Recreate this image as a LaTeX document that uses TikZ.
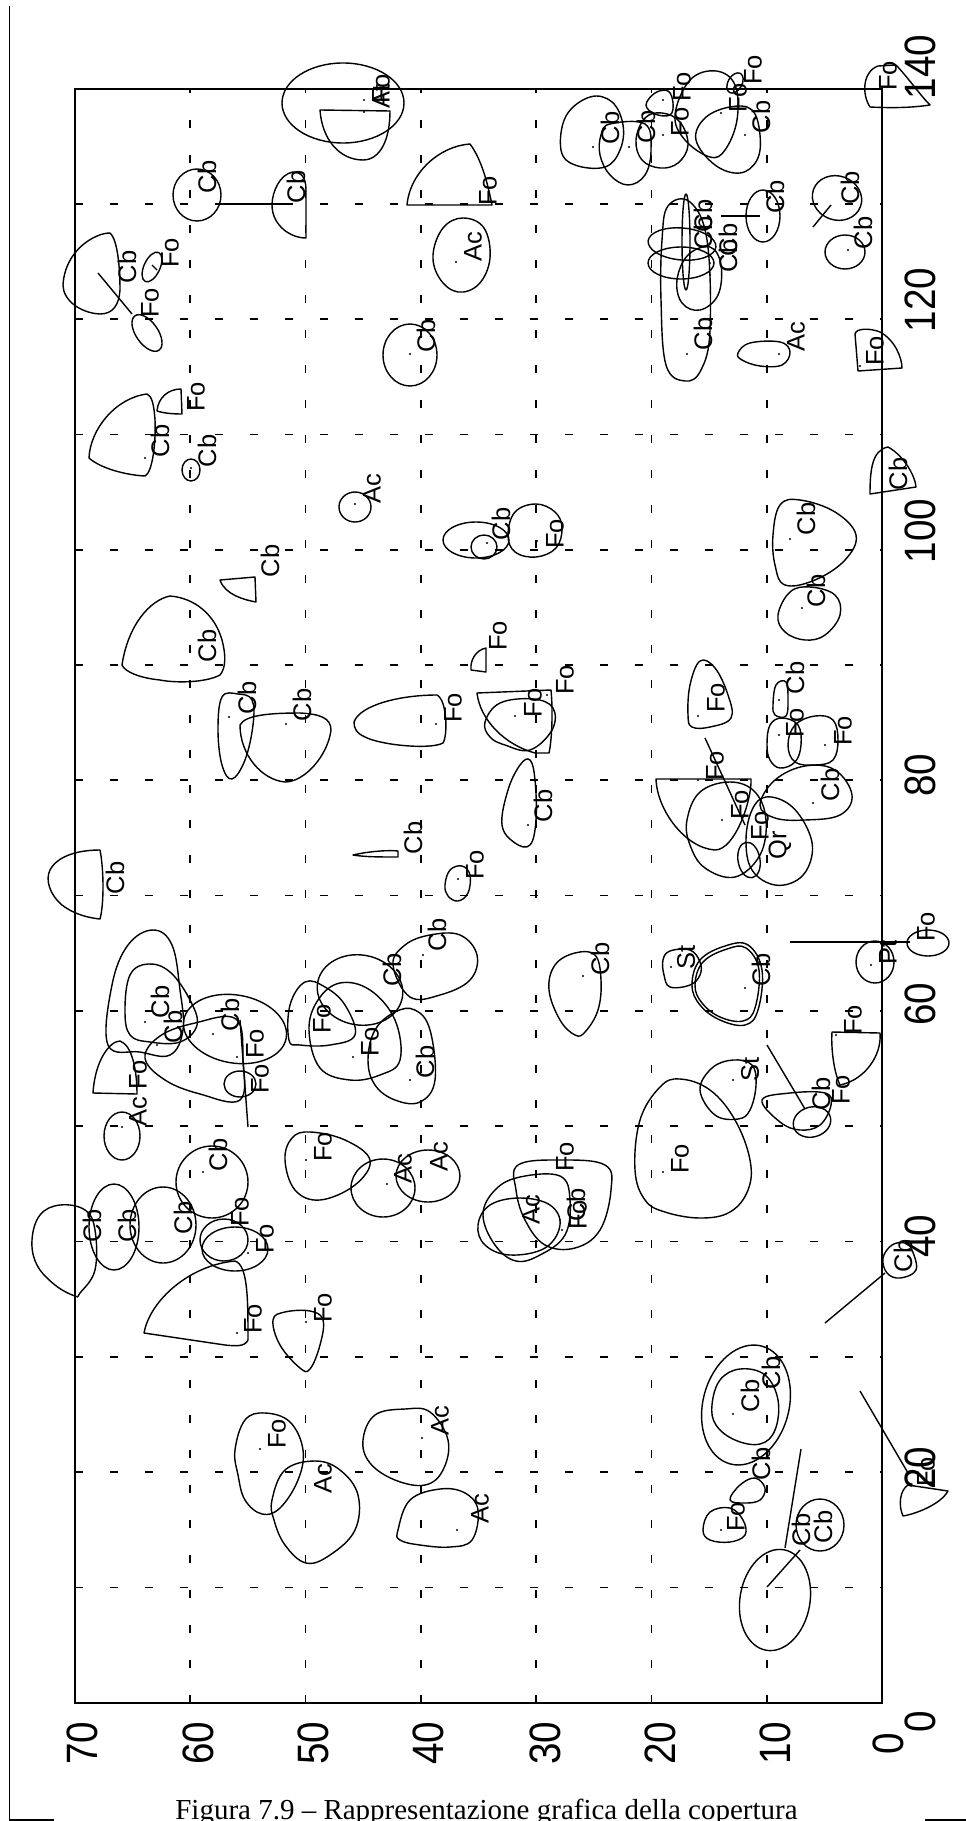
\documentclass[tikz,border=0pt]{standalone}
\usepackage{fontspec}
\usepackage{graphicx}
\setmainfont{Liberation Serif}
\newfontfamily\lfont{Liberation Sans}
\tikzset{
 shp/.style={line width=0.8pt, line join=round},
 lab/.style={font=\lfont\fontsize{14.5}{15}\selectfont, rotate=90, inner sep=0pt},
 axl/.style={font=\lfont\fontsize{25}{26}\selectfont, rotate=90, inner sep=0pt},
 gridl/.style={line width=1pt, dash pattern=on 0.16cm off 0.54cm},
}
\newcommand\Blob[1]{\draw[shp] plot[smooth cycle, tension=0.65] coordinates {#1};}
\newcounter{lbcount}
\newcommand\Lb[3]{\stepcounter{lbcount}\node[lab] (lb\arabic{lbcount}) at (#1,#2) {#3};}
\newcommand\Dt[2]{\fill (#1,#2) circle [radius=1.1];}
\newcommand\Ell[5]{\draw[shp, rotate around={#5:(#1,#2)}] (#1,#2) ellipse [x radius=#3, y radius=#4];}
\newcommand\Ax[3]{\node[axl] (#1) at (#2) {\scalebox{0.88}[1]{#3}};}
\begin{document}
\begin{tikzpicture}[x=0.02cm, y=-0.02cm]
\useasboundingbox (0,0) rectangle (966,1821);
\clip (0,0) rectangle (966,1821);
% page rules
\draw[line width=0.6pt] (9.3,6) -- (9.3,1820) -- (54,1820);
\draw[line width=0.6pt] (925,1820) -- (966,1820);
% grid
\foreach \xx in {766.7,651.4,536.1,420.8,305.5,190.2} \draw[gridl] (\xx,1702.7) -- (\xx,89);
\foreach \yy in {1587.4,1472.1,1356.8,1241.5,1126.2,1010.9,895.6,780.3,665,549.7,434.4,319.1,203.8} \draw[gridl] (75,\yy) -- (882,\yy);
% frame
\draw[line width=1.3pt] (75,89) rectangle (882,1702.7);
% axis labels
\Ax{ax0}{920,1722}{0}
\Ax{ax20}{920,1468}{20}
\Ax{ax40}{920,1236}{40}
\Ax{ax60}{920,1004}{60}
\Ax{ax80}{920,775}{80}
\Ax{ax100}{920,531}{100}
\Ax{ax120}{920,300}{120}
\Ax{ax140}{920,67}{140}
\Ax{ay70}{82,1743}{70}
\Ax{ay60}{198,1743}{60}
\Ax{ay50}{313,1743}{50}
\Ax{ay40}{428,1743}{40}
\Ax{ay30}{545,1743}{30}
\Ax{ay20}{660,1743}{20}
\Ax{ay10}{775,1743}{10}
\Ax{ay0}{888,1744}{0}
% caption
\node[anchor=base west, inner sep=0pt, font=\fontsize{16.5}{18}\selectfont] (cap) at (175,1819) {Figura 7.9 -- Rappresentazione grafica della copertura};

% ---------- top-left ----------
\Ell{343}{103}{61}{40}{0}
\draw[shp] (320,110) -- (390,111) .. controls (390,140) and (380,160) .. (363,160) .. controls (340,160) and (322,140) .. (320,110) -- cycle;
\Dt{364}{100} \Dt{364}{112}
\Lb{381}{96}{At} \Lb{381}{89}{Fo}
\Ell{197}{195}{24}{26}{0}
\Lb{207}{177}{Cb}
\draw[shp] (221,204) -- (293,204);
\draw[shp] (306,238) -- (306,190) .. controls (306,176) and (300,172) .. (293,172) .. controls (280,174) and (272,192) .. (272,205) .. controls (272,225) and (290,238) .. (306,238) -- cycle;
\Lb{296}{187}{Cb}
\draw[shp] (407,205) .. controls (410,172) and (440,146) .. (470,144) .. controls (482,160) and (488,185) .. (492,205) -- cycle;
\Lb{488}{191}{Fo}
\Blob{(433,255) (443,228) (463,218) (484,228) (490,258) (479,284) (458,292) (440,279)}
\Dt{456}{262}
\Lb{473}{247}{Ac}
\draw[shp] (63,285) .. controls (65,250) and (95,233) .. (110,233) .. controls (118,240) and (120,270) .. (120,290) .. controls (119,305) and (113,314) .. (100,314) .. controls (80,313) and (63,300) .. (63,285) -- cycle;
\Lb{127}{267}{Cb}
\draw[shp] (98,273) -- (132,314);
\Ell{152}{267}{8}{16}{-25}
\draw[shp] (152,265) -- (157,270);
\Lb{170}{253}{Fo}
\Ell{147}{333}{11}{21}{35}
\Lb{150}{303}{Fo}
% ---------- top-right cluster ----------
\Blob{(561,150) (566,116) (590,97) (612,102) (623,125) (620,150) (605,167) (575,165)}
\Blob{(601,135) (610,124) (645,124) (651,150) (645,175) (628,185) (610,175) (600,155)}
\Blob{(636,140) (645,118) (662,113) (680,122) (688,145) (678,163) (660,168) (642,160)}
\Blob{(646,105) (655,93) (668,91) (673,103) (670,115) (655,114)}
\Blob{(696,140) (705,118) (730,107) (752,110) (760,135) (757,160) (740,173) (715,165)}
\Blob{(675,115) (690,80) (716,71) (735,85) (737,120) (725,150) (710,157) (685,140)}
\Ell{735}{83}{7}{11}{-30}
\Dt{593}{147} \Dt{629}{147} \Dt{663}{135} \Dt{663}{100} \Dt{745}{135} \Dt{721}{113}
\Lb{610}{128}{Cb} \Lb{646}{127}{Cb} \Lb{680}{122}{Fo} \Lb{682}{87}{Fo} \Lb{738}{98}{Fo} \Lb{753}{70}{Fo} \Lb{761}{117}{Cb}
\draw[shp] (870,107) .. controls (862,95) and (862,72) .. (878,66) -- (896,65) .. controls (910,80) and (920,95) .. (930,105) .. controls (910,108) and (890,108) .. (870,107) -- cycle;
\Lb{888}{76}{Fo}
% ---------- cluster near x=120 ----------
\Ell{682}{244}{34}{16}{-5}
\Ell{681}{263}{33}{16}{0}
\Ell{686}{242}{4}{48}{0}
\Blob{(661,300) (662,240) (668,206) (690,202) (707,240) (710,330) (701,370) (685,381) (666,365)}
\Blob{(677,280) (688,255) (710,247) (721,265) (718,295) (700,310) (682,303)}
\Dt{687}{354} \Dt{710}{263} \Dt{710}{275}
\Lb{703}{334}{Cb} \Lb{703}{216}{Cb} \Lb{703}{233}{Cb} \Lb{728}{240}{Cb} \Lb{728}{256}{Cb}
\Ell{763}{216}{17}{26}{0}
\draw[shp] (721,216) -- (760,216);
\Lb{775}{197}{Cb}
\Ell{837}{198}{25}{22}{-20}
\draw[shp] (813,227) -- (831,205);
\Lb{850}{188}{Cb}
\Ell{845}{252}{20}{17}{0}
\Dt{848}{250}
\Lb{863}{233}{Cb}
% ---------- x 100-110 ----------
\Ell{410}{355}{27}{31}{0}
\Dt{410}{354}
\Lb{426}{336}{Cb}
\draw[shp] (157,411) .. controls (158,398) and (168,389) .. (181,389) -- (182,414) .. controls (172,414) and (163,413) .. (157,411) -- cycle;
\Lb{196}{397}{Fo}
\draw[shp] (147,394) .. controls (115,398) and (90,430) .. (89,458) .. controls (100,468) and (125,475) .. (145,476) .. controls (153,472) and (156,440) .. (155,420) .. controls (154,405) and (152,396) .. (147,394) -- cycle;
\Dt{145}{458}
\Lb{160}{441}{Cb}
\Ell{191}{470}{9}{11}{0}
\Dt{191}{468}
\Lb{207}{451}{Cb}
\Ell{355}{507}{16}{15}{0}
\Dt{355}{504}
\Lb{372}{489}{Ac}
\Ell{476}{540}{33}{18}{0}
\Ell{484}{547}{13}{12}{0}
\Dt{487}{543}
\Lb{501}{524}{Cb}
\Blob{(508,535) (515,512) (536,504) (555,512) (562,528) (556,548) (536,557) (515,552)}
\Dt{537}{541}
\Lb{555}{534}{Fo}
\draw[shp] (220,580) -- (255,577) -- (256,602) .. controls (245,600) and (225,595) .. (220,580) -- cycle;
\Lb{270}{561}{Cb}
\draw[shp] (122,665) .. controls (128,625) and (150,600) .. (170,596) .. controls (195,598) and (215,615) .. (222,640) .. controls (226,655) and (226,668) .. (220,675) .. controls (205,683) and (175,683) .. (160,680) .. controls (140,678) and (125,672) .. (122,665) -- cycle;
\Lb{207}{646}{Cb}
\Blob{(738,353) (750,343) (780,342) (790,352) (782,365) (760,366) (742,360)}
\Dt{779}{354}
\Lb{796}{337}{Ac}
\draw[shp] (858,371) -- (855,334) .. controls (856,328) and (870,328) .. (880,332) .. controls (895,340) and (902,358) .. (902,368) -- cycle;
\Dt{860}{366}
\Lb{875}{351}{Fo}
\draw[shp] (870,494) .. controls (870,470) and (872,450) .. (888,447) .. controls (903,455) and (915,475) .. (916,487) -- cycle;
\Lb{898}{474}{Cb}
\Blob{(773,535) (780,505) (800,500) (835,512) (856,535) (845,560) (815,580) (785,585) (775,565)}
\Dt{790}{539}
\Lb{806}{519}{Cb}
\Blob{(778,615) (790,592) (810,587) (835,595) (840,615) (825,635) (805,640) (785,632)}
\Dt{802}{608}
\Lb{816}{591}{Cb}
% ---------- x 80-90 ----------
\Blob{(218,730) (222,697) (238,694) (252,700) (253,725) (245,760) (232,779) (222,765)}
\Dt{229}{717}
\Lb{247}{698}{Cb}
\draw[shp] (240,725) .. controls (245,715) and (270,713) .. (300,713) .. controls (320,714) and (331,718) .. (331,730) .. controls (328,755) and (305,782) .. (285,782) .. controls (262,780) and (240,755) .. (240,725) -- cycle;
\Dt{286}{724}
\Lb{302}{705}{Cb}
\draw[shp] (354,722) .. controls (360,705) and (400,695) .. (437,695) .. controls (447,700) and (448,735) .. (443,743) .. controls (430,750) and (380,745) .. (365,737) .. controls (356,733) and (354,728) .. (354,722) -- cycle;
\Dt{436}{724}
\Lb{453}{708}{Fo}
\draw[shp] (353,855) .. controls (370,851) and (390,850) .. (398,851) -- (398,857) .. controls (380,857) and (365,857) .. (353,855) -- cycle;
\Lb{413}{838}{Cb}
\draw[shp] (100,850) .. controls (104,870) and (104,905) .. (100,919) .. controls (90,918) and (75,915) .. (62,905) .. controls (50,895) and (45,880) .. (50,870) .. controls (58,855) and (80,850) .. (100,850) -- cycle;
\Lb{115}{878}{Cb}
\Blob{(445,885) (450,870) (462,866) (470,875) (468,893) (458,901) (448,896)}
\Dt{458}{879}
\Lb{475}{865}{Fo}
\draw[shp] (486,648) .. controls (476,650) and (470,660) .. (471,670) -- (486,672) -- cycle;
\Lb{498}{636}{Fo}
\draw[shp] (477,693) -- (551,690) .. controls (553,710) and (552,740) .. (549,753) -- (535,753) .. controls (505,745) and (480,720) .. (477,693) -- cycle;
\Dt{547}{695}
\Lb{565}{680}{Fo}
\Blob{(485,722) (500,703) (533,699) (553,708) (552,730) (530,750) (505,745) (490,737)}
\Dt{515}{716}
\Lb{533}{703}{Fo}
\Blob{(502,825) (508,790) (520,765) (530,760) (535,780) (536,820) (530,845) (515,843)}
\Dt{528}{825}
\Lb{543}{806}{Cb}
\Blob{(688,715) (690,685) (700,661) (715,668) (728,695) (731,718) (710,727) (692,727)}
\Dt{698}{716}
\Lb{716}{698}{Fo}
\draw[shp] (705,738) -- (745,825);
\draw[shp] (656,779) -- (751,779) .. controls (752,800) and (735,850) .. (715,850) .. controls (685,848) and (657,810) .. (656,779) -- cycle;
\Dt{698}{780}
\Lb{715}{766}{Fo}
\Blob{(687,820) (700,792) (730,782) (755,792) (766,820) (760,855) (735,877) (705,868) (690,845)}
\Dt{722}{820}
\Lb{740}{805}{Fo}
\Ell{749}{860}{11}{18}{10}
\Lb{780}{845}{Qr}
\Lb{760}{826}{Fo}
\Blob{(746,840) (752,810) (766,797) (790,805) (808,830) (812,855) (800,878) (775,885) (752,870)}
\Blob{(760,805) (775,780) (805,766) (835,770) (852,795) (840,815) (805,820) (775,818)}
\Dt{813}{803}
\Lb{830}{785}{Cb}
\Blob{(773,705) (776,685) (786,682) (788,700) (786,716) (775,715)}
\Dt{779}{700}
\Lb{795}{678}{Cb}
\Blob{(767,745) (770,725) (782,718) (798,725) (801,745) (795,762) (780,768) (770,760)}
\Dt{779}{735}
\Lb{795}{723}{Fo}
\Blob{(788,745) (795,725) (815,716) (833,720) (838,740) (833,760) (815,765) (795,762)}
\Dt{825}{745}
\Lb{843}{731}{Fo}
% ---------- x 50-65 ----------
\Blob{(108,1045) (112,985) (128,945) (153,930) (172,945) (180,990) (183,1030) (170,1055) (140,1052)}
\Blob{(125,1010) (130,975) (148,964) (170,972) (190,1000) (197,1025) (180,1042) (150,1042) (130,1035)}
\Dt{145}{1022}
\Lb{160}{1002}{Cb} \Lb{173}{1027}{Cb}
\draw[shp] (93,1093) .. controls (95,1060) and (110,1041) .. (120,1041) .. controls (132,1045) and (137,1070) .. (137,1094) -- cycle;
\Lb{138}{1075}{Fo} \Lb{138}{1112}{Ac}
\Ell{122}{1136}{18}{24}{0}
\Dt{122}{1127}
\Ell{235}{1029}{52}{34}{-10}
\Dt{213}{1034}
\Lb{230}{1015}{Cb}
\Blob{(145,1058) (160,1036) (195,1023) (236,1019) (243,1060) (240,1100) (200,1094) (165,1080)}
\Dt{157}{1045}
\draw[shp] (240,1020) -- (248,1127);
\Ell{240}{1084}{16}{13}{0}
\Dt{237}{1057}
\Lb{255}{1044}{Fo} \Lb{260}{1079}{Fo}
\Blob{(289,1040) (290,1005) (305,982) (325,987) (345,1005) (355,1035) (330,1045) (300,1045)}
\Lb{322}{1019}{Fo}
\Ell{360}{990}{43}{35}{-10}
\Lb{392}{970}{Cb}
\Blob{(309,1030) (318,1000) (340,983) (370,990) (395,1020) (400,1060) (380,1075) (350,1080) (320,1068)}
\Dt{353}{1057}
\Lb{370}{1042}{Fo}
\Blob{(393,965) (405,945) (430,935) (460,935) (477,955) (470,980) (440,995) (410,997)}
\Dt{423}{955}
\Lb{437}{935}{Cb}
\Blob{(368,1060) (375,1030) (395,1012) (415,1010) (430,1030) (435,1080) (420,1102) (395,1100) (375,1085)}
\Dt{410}{1080}
\Lb{425}{1062}{Cb}
\Blob{(285,1160) (292,1138) (310,1132) (345,1140) (370,1160) (355,1185) (320,1200) (295,1190)}
\Dt{306}{1160}
\Lb{323}{1147}{Fo}
\Ell{383}{1188}{32}{29}{0}
\Dt{387}{1184}
\Lb{403}{1169}{Ac}
\Ell{428}{1176}{32}{26}{0}
\Lb{439}{1157}{Ac}
\Ell{212}{1182}{36}{36}{0}
\Dt{203}{1172}
\Lb{218}{1155}{Cb}
% ---------- x 30-45 ----------
\Blob{(32,1240) (40,1215) (60,1205) (85,1210) (95,1230) (95,1270) (80,1293) (75,1296) (55,1285) (37,1265)}
\Lb{92}{1226}{Cb}
\Ell{114}{1227}{25}{43}{0}
\Lb{127}{1226}{Cb}
\Ell{163}{1225}{33}{38}{0}
\Lb{183}{1218}{Cb}
\Ell{224}{1240}{24}{21}{0}
\Lb{240}{1212}{Fo}
\Ell{235}{1249}{33}{22}{0}
\Dt{248}{1253}
\Lb{265}{1239}{Fo}
\draw[shp] (144,1333) .. controls (150,1300) and (190,1265) .. (235,1261) .. controls (248,1265) and (248,1300) .. (248,1340) .. controls (245,1347) and (235,1346) .. (225,1345) -- cycle;
\Dt{237}{1333}
\Lb{253}{1319}{Fo}
\Blob{(273,1320) (285,1312) (310,1311) (323,1320) (320,1345) (310,1369) (300,1368) (280,1345)}
\Dt{306}{1322}
\Lb{323}{1308}{Fo}
\Blob{(235,1450) (245,1420) (265,1413) (290,1422) (303,1450) (298,1480) (280,1508) (262,1514) (245,1500) (238,1475)}
\Dt{260}{1449}
\Lb{277}{1434}{Fo}
\Blob{(272,1500) (285,1470) (315,1461) (340,1470) (358,1495) (355,1530) (330,1555) (306,1563) (285,1545) (274,1520)}
\Lb{323}{1479}{Ac}
\Blob{(363,1440) (375,1415) (405,1409) (430,1412) (448,1440) (443,1470) (425,1485) (395,1480) (370,1463)}
\Dt{422}{1438}
\Lb{440}{1421}{Ac}
\Blob{(398,1530) (410,1500) (440,1489) (465,1493) (478,1510) (472,1540) (450,1547) (420,1545) (400,1540)}
\Dt{457}{1530}
\Lb{480}{1509}{Ac}
% ---------- right half, x 40-65 ----------
\Blob{(549,990) (555,965) (575,953) (595,955) (601,980) (598,1010) (585,1032) (575,1035) (560,1020)}
\Dt{583}{976}
\Lb{600}{959}{Cb}
\Blob{(663,960) (670,951) (690,950) (700,962) (700,975) (690,985) (670,987) (664,975)}
\Dt{671}{967}
\Lb{686}{957}{St}
\Blob{(692,985) (700,960) (725,946) (748,945) (762,970) (758,1010) (745,1025) (720,1020) (700,1005)}
\Blob{(695,985) (703,962) (727,949) (746,948) (759,970) (755,1008) (743,1021) (720,1017) (702,1003)}
\Dt{745}{988}
\Lb{761}{970}{Cb}
\draw[shp] (790,942) -- (910,942);
\Ell{875}{962}{19}{21}{0}
\Dt{871}{965}
\Lb{888}{952}{Pt}
\Ell{928}{943}{21}{13}{0}
\Lb{926}{927}{Fo}
\draw[shp] (832,1032) -- (880,1033) .. controls (882,1055) and (865,1080) .. (840,1085) .. controls (833,1070) and (831,1045) .. (832,1032) -- cycle;
\Dt{836}{1035}
\Lb{853}{1020}{Fo}
\draw[shp] (767,1045) -- (805,1109);
\Blob{(762,1100) (790,1093) (825,1093) (831,1105) (820,1125) (800,1130) (780,1122)}
\Ell{812}{1122}{19}{15}{15}
\Lb{821}{1094}{Cb} \Lb{841}{1090}{Fo}
\Blob{(700,1090) (712,1068) (733,1060) (752,1065) (756,1085) (750,1110) (738,1119) (715,1115)}
\Dt{733}{1080}
\Lb{750}{1069}{St}
\Blob{(635,1170) (640,1120) (660,1087) (680,1079) (710,1090) (735,1120) (750,1160) (748,1190) (730,1212) (700,1218) (665,1212) (645,1200)}
\Dt{663}{1172}
\Lb{680}{1159}{Fo}
\Blob{(516,1190) (518,1165) (560,1160) (605,1165) (611,1190) (600,1230) (575,1248) (545,1245) (525,1220)}
\Blob{(483,1215) (495,1190) (520,1177) (560,1176) (570,1200) (565,1235) (540,1255) (516,1261) (495,1245)}
\Blob{(478,1225) (490,1205) (520,1198) (550,1205) (560,1225) (545,1248) (510,1255) (485,1245)}
\Lb{565}{1157}{Fo} \Lb{531}{1210}{Ac} \Lb{576}{1205}{Cb} \Lb{578}{1215}{Fo}
\Dt{560}{1220} \Dt{562}{1230}
% ---------- x 0-40 ----------
\Blob{(883,1258) (892,1245) (905,1243) (912,1250) (916,1270) (900,1278) (887,1273)}
\Lb{903}{1256}{Cb}
\draw[shp] (825,1323) -- (885,1273);
\Ell{746}{1405}{43}{61}{-15}
\Blob{(712,1405) (720,1380) (740,1369) (765,1375) (778,1400) (775,1430) (760,1444) (735,1440) (716,1425)}
\Dt{733}{1414}
\Lb{750}{1396}{Cb} \Lb{771}{1373}{Cb}
\draw[shp] (860,1391) -- (908,1473);
\draw[shp] (903,1516) .. controls (898,1505) and (900,1490) .. (908,1485) -- (948,1491) .. controls (940,1505) and (915,1514) .. (903,1516) -- cycle;
\Lb{926}{1472}{Fo}
\Blob{(730,1500) (740,1485) (755,1478) (765,1488) (760,1500) (745,1503)}
\Lb{761}{1464}{Cb}
\draw[shp] (801,1449) -- (785,1548);
\Ell{820}{1525}{24}{26}{0}
\Lb{801}{1530}{Cb} \Lb{823}{1527}{Cb}
\Blob{(703,1530) (710,1512) (730,1508) (743,1520) (745,1535) (730,1542) (710,1540)}
\Dt{721}{1530}
\Lb{736}{1517}{Fo}
\Ell{775}{1600}{35}{51}{-10}
\draw[shp] (767,1587) -- (800,1550);
\end{tikzpicture}
\end{document}
